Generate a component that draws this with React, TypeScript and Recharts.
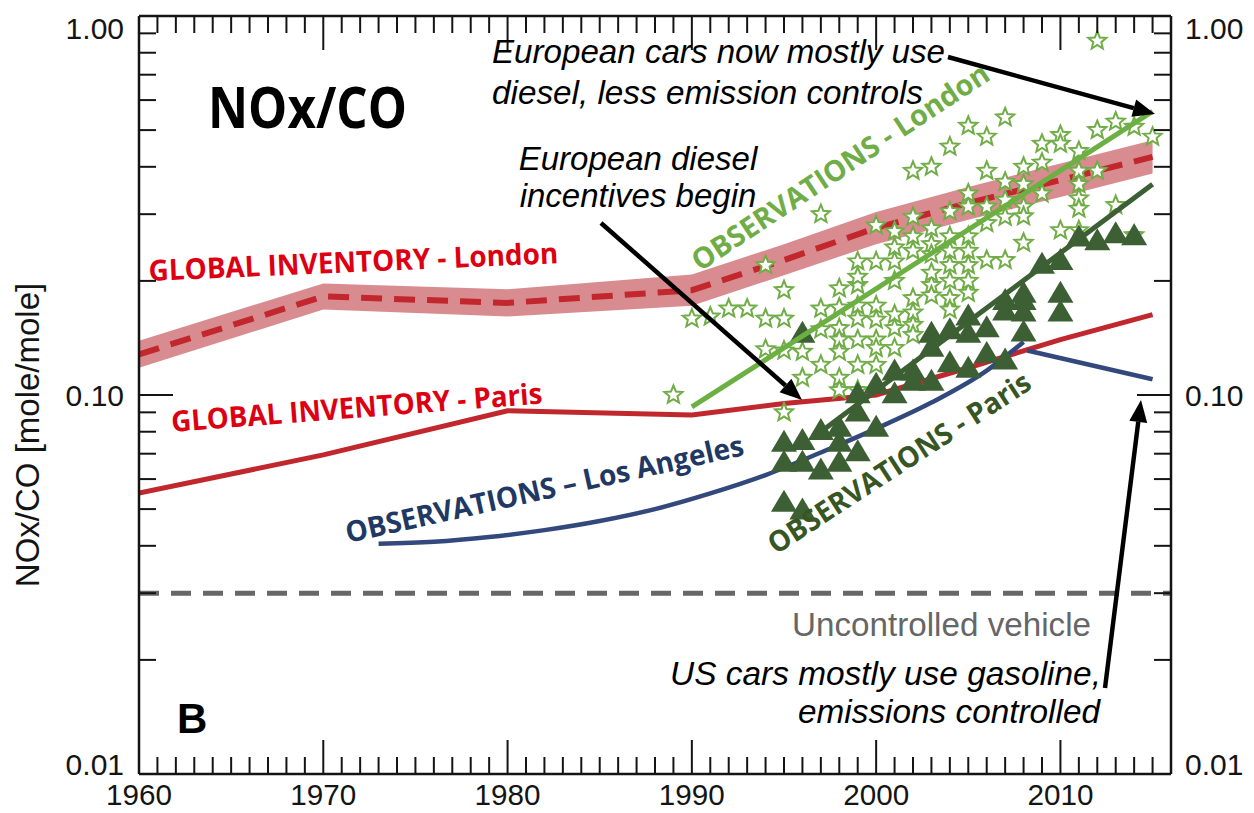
import React from "react";
import { Area, ComposedChart, Line, Scatter, XAxis, YAxis } from "recharts";

// Global inventory (model) values, read at the kinks of the curves
const inventoryYears = [1960, 1970, 1980, 1990, 1995, 2000, 2005, 2010, 2015];
const londonInventory = [0.128, 0.182, 0.175, 0.189, 0.227, 0.276, 0.321, 0.369, 0.425];
const londonInventoryLow = [0.118, 0.168, 0.161, 0.172, 0.207, 0.25, 0.29, 0.333, 0.384];
const londonInventoryHigh = [0.139, 0.197, 0.19, 0.208, 0.25, 0.304, 0.354, 0.408, 0.47];
const parisInventory = [0.0551, 0.0695, 0.0909, 0.0886, 0.095, 0.1, 0.118, 0.14, 0.163];

// Los Angeles observations (smooth fit + recent segment)
const laYears = [1973, 1976, 1979, 1982, 1985, 1988, 1991, 1994, 1997, 2000, 2003, 2006, 2008];
const laValues = [0.0405, 0.041, 0.0422, 0.044, 0.0465, 0.05, 0.055, 0.0615, 0.0705, 0.0815, 0.0955, 0.116, 0.138];
const laRecentYears = [2008.2, 2015];
const laRecentValues = [0.131, 0.11];

// Trend lines through the observations
const londonFitYears = [1990, 2015];
const londonFitValues = [0.093, 0.56];
const parisFitYears = [1997, 2015];
const parisFitValues = [0.08, 0.36];

const uncontrolledYears = [1960, 2016];
const uncontrolledValues = [0.03, 0.03];

// Observations - London (stars), [year, NOx/CO]
const londonObs = [
  [1989, 0.1], [1990, 0.159], [1991, 0.161], [1992, 0.169], [1993, 0.169],
  [1994, 0.159], [1994, 0.132], [1994, 0.22],
  [1995, 0.159], [1995, 0.189], [1995, 0.09], [1995, 0.131],
  [1996, 0.13], [1996, 0.111],
  [1997, 0.12], [1997, 0.169], [1997, 0.149], [1997, 0.3],
  [1998, 0.191], [1998, 0.15], [1998, 0.14], [1998, 0.13], [1998, 0.111], [1998, 0.103], [1998, 0.17],
  [1999, 0.195], [1999, 0.172], [1999, 0.159], [1999, 0.14], [1999, 0.12], [1999, 0.103], [1999, 0.225], [1999, 0.205],
  [2000, 0.172], [2000, 0.158], [2000, 0.14], [2000, 0.133], [2000, 0.12], [2000, 0.225], [2000, 0.28],
  [2001, 0.2], [2001, 0.163], [2001, 0.15], [2001, 0.133], [2001, 0.245], [2001, 0.225], [2001, 0.27],
  [2002, 0.18], [2002, 0.165], [2002, 0.153], [2002, 0.144], [2002, 0.262], [2002, 0.24], [2002, 0.295], [2002, 0.39],
  [2003, 0.195], [2003, 0.183], [2003, 0.275], [2003, 0.25], [2003, 0.235], [2003, 0.21], [2003, 0.4],
  [2004, 0.18], [2004, 0.168], [2004, 0.262], [2004, 0.24], [2004, 0.22], [2004, 0.305], [2004, 0.452], [2004, 0.2],
  [2005, 0.262], [2005, 0.24], [2005, 0.22], [2005, 0.186], [2005, 0.314], [2005, 0.34], [2005, 0.513], [2005, 0.2],
  [2006, 0.48], [2006, 0.39], [2006, 0.314], [2006, 0.284], [2006, 0.227],
  [2007, 0.54], [2007, 0.365], [2007, 0.327], [2007, 0.295], [2007, 0.227],
  [2008, 0.4], [2008, 0.36], [2008, 0.314], [2008, 0.296], [2008, 0.252],
  [2009, 0.46], [2009, 0.41], [2009, 0.34],
  [2010, 0.485], [2010, 0.46], [2010, 0.272],
  [2011, 0.44], [2011, 0.39], [2011, 0.36], [2011, 0.33], [2011, 0.31], [2011, 0.272],
  [2012, 0.5], [2012, 0.39], [2012, 0.86],
  [2013, 0.526], [2013, 0.317],
  [2014, 0.51], [2014, 0.264],
  [2015, 0.48],
];

// Observations - Paris (triangles), [year, NOx/CO]
const parisObs = [
  [1995, 0.0753], [1995, 0.0667], [1995, 0.0523],
  [1996, 0.0761], [1996, 0.0667], [1996, 0.0499], [1996, 0.146],
  [1997, 0.0808], [1997, 0.0636],
  [1998, 0.0824], [1998, 0.0753], [1998, 0.0667],
  [1999, 0.101], [1999, 0.0905], [1999, 0.071],
  [2000, 0.107], [2000, 0.0824],
  [2001, 0.116], [2001, 0.101],
  [2002, 0.116], [2002, 0.109],
  [2003, 0.109], [2003, 0.146], [2003, 0.134],
  [2004, 0.149], [2004, 0.122],
  [2005, 0.162], [2005, 0.146], [2005, 0.118],
  [2006, 0.151], [2006, 0.129],
  [2007, 0.178], [2007, 0.167], [2007, 0.124],
  [2008, 0.186], [2008, 0.166], [2008, 0.147], [2008, 0.178],
  [2009, 0.222],
  [2010, 0.227], [2010, 0.186], [2010, 0.166],
  [2011, 0.262], [2012, 0.256], [2013, 0.267], [2014, 0.264],
];

const xMajorTicks = [1960, 1970, 1980, 1990, 2000, 2010];
const xTicks = Array.from({ length: 57 }, (_, i) => 1960 + i);
const yTicks = [0.01, 0.02, 0.03, 0.04, 0.05, 0.06, 0.07, 0.08, 0.09, 0.1, 0.2, 0.3, 0.4, 0.5, 0.6, 0.7, 0.8, 0.9, 1];
const yTickLabels: Record<string, string> = { "0.01": "0.01", "0.1": "0.10", "1": "1.00" };

const zip = (xs: number[], ys: number[]) => xs.map((year, i) => ({ year, value: ys[i] }));

const bandData = inventoryYears.map((year, i) => ({
  year,
  value: londonInventory[i],
  band: [londonInventoryLow[i], londonInventoryHigh[i]],
}));
const parisInvData = zip(inventoryYears, parisInventory);
const laData = zip(laYears, laValues);
const laRecentData = zip(laRecentYears, laRecentValues);
const londonFitData = zip(londonFitYears, londonFitValues);
const parisFitData = zip(parisFitYears, parisFitValues);
const uncontrolledData = zip(uncontrolledYears, uncontrolledValues);
const londonObsData = londonObs.map(([year, value]) => ({ year, value }));
const parisObsData = parisObs.map(([year, value]) => ({ year, value }));

const AXIS_FONT = "'Liberation Sans', Arial, Helvetica, sans-serif";
const LABEL_FONT = "'Open Sans', Lato, sans-serif";
const INK = "#141414";

function BottomTick(props: any) {
  const { x, y, payload } = props;
  const v = payload.value as number;
  const major = xMajorTicks.includes(v);
  return (
    <g>
      <line x1={x} y1={y} x2={x} y2={y - (major ? 34 : 17)} stroke={INK} strokeWidth={2} />
      {major && (
        <text x={x} y={y + 31} textAnchor="middle" fontSize={30} fontFamily={AXIS_FONT} fill={INK} textLength={66} lengthAdjust="spacingAndGlyphs">
          {v}
        </text>
      )}
    </g>
  );
}

function TopTick(props: any) {
  const { x, y, payload } = props;
  const major = xMajorTicks.includes(payload.value);
  return <line x1={x} y1={y} x2={x} y2={y + (major ? 34 : 17)} stroke={INK} strokeWidth={2} />;
}

function labelShift(label: string) {
  if (label === "1.00") return 12;
  if (label === "0.01") return -10;
  return 0;
}

function LeftTick(props: any) {
  const { x, y, payload } = props;
  const label = yTickLabels[String(payload.value)];
  return (
    <g>
      <line x1={x} y1={y} x2={x + (label ? 34 : 17)} y2={y} stroke={INK} strokeWidth={2} />
      {label && (
        <text x={x - 15} y={y + 11 + labelShift(label)} textAnchor="end" fontSize={30} fontFamily={AXIS_FONT} fill={INK}>
          {label}
        </text>
      )}
    </g>
  );
}

function RightTick(props: any) {
  const { x, y, payload } = props;
  const label = yTickLabels[String(payload.value)];
  return (
    <g>
      <line x1={x} y1={y} x2={x - (label ? 34 : 17)} y2={y} stroke={INK} strokeWidth={2} />
      {label && (
        <text x={x + 14} y={y + 11 + labelShift(label)} textAnchor="start" fontSize={30} fontFamily={AXIS_FONT} fill={INK}>
          {label}
        </text>
      )}
    </g>
  );
}

function StarShape(props: any) {
  const { cx, cy } = props;
  const pts: string[] = [];
  for (let i = 0; i < 10; i++) {
    const r = i % 2 === 0 ? 9.5 : 4.2;
    const a = -Math.PI / 2 + (i * Math.PI) / 5;
    pts.push(`${cx + r * Math.cos(a)},${cy + r * Math.sin(a)}`);
  }
  return <polygon points={pts.join(" ")} fill="#ffffff" stroke="#70ad47" strokeWidth={2} />;
}

function TriangleShape(props: any) {
  const { cx, cy } = props;
  return <polygon points={`${cx},${cy - 12} ${cx - 13},${cy + 10} ${cx + 13},${cy + 10}`} fill="#3d5f34" />;
}

function Arrow({ x1, y1, x2, y2 }: { x1: number; y1: number; x2: number; y2: number }) {
  const a = Math.atan2(y2 - y1, x2 - x1);
  const len = 22;
  const hw = 9;
  const bx = x2 - len * Math.cos(a);
  const by = y2 - len * Math.sin(a);
  const p1 = `${bx + hw * Math.sin(a)},${by - hw * Math.cos(a)}`;
  const p2 = `${bx - hw * Math.sin(a)},${by + hw * Math.cos(a)}`;
  return (
    <g>
      <line x1={x1} y1={y1} x2={bx} y2={by} stroke="#000" strokeWidth={4.5} />
      <polygon points={`${x2},${y2} ${p1} ${p2}`} fill="#000" />
    </g>
  );
}

function Slanted(props: { x: number; y: number; angle: number; length: number; color: string; children: string }) {
  const { x, y, angle, length, color, children } = props;
  return (
    <text
      transform={`translate(${x},${y}) rotate(${angle})`}
      fontFamily={LABEL_FONT}
      fontWeight={700}
      fontSize={29}
      fill={color}
      textLength={length}
      lengthAdjust="spacingAndGlyphs"
    >
      {children}
    </text>
  );
}

function Note(props: { x: number; y: number; anchor?: "start" | "middle" | "end"; length?: number; color?: string; italic?: boolean; children: string }) {
  const { x, y, anchor = "start", length, color = "#000", italic = true, children } = props;
  return (
    <text
      x={x}
      y={y}
      textAnchor={anchor}
      fontFamily={AXIS_FONT}
      fontStyle={italic ? "italic" : "normal"}
      fontSize={33}
      fill={color}
      textLength={length}
      lengthAdjust="spacingAndGlyphs"
    >
      {children}
    </text>
  );
}

export default function App() {
  return (
    <div style={{ position: "absolute", left: 0, top: 0, width: 1254, height: 813, background: "#fff" }}>
      <ComposedChart width={1254} height={813} margin={{ top: 0, right: 0, bottom: 0, left: 0 }}>
        <XAxis
          xAxisId={0}
          dataKey="year"
          type="number"
          domain={[1960, 2016]}
          allowDataOverflow
          ticks={xTicks}
          interval={0}
          height={39}
          tickSize={0}
          tickMargin={0}
          tick={<BottomTick />}
          tickLine={false}
          axisLine={{ stroke: INK, strokeWidth: 2.5 }}
        />
        <XAxis
          xAxisId="top"
          orientation="top"
          dataKey="year"
          type="number"
          domain={[1960, 2016]}
          allowDataOverflow
          ticks={xTicks}
          interval={0}
          height={16}
          tickSize={0}
          tickMargin={0}
          tick={<TopTick />}
          tickLine={false}
          axisLine={{ stroke: INK, strokeWidth: 2.5 }}
        />
        <YAxis
          yAxisId={0}
          type="number"
          scale="log"
          domain={[0.01, 1]}
          allowDataOverflow
          ticks={yTicks}
          interval={0}
          width={139}
          tickSize={0}
          tickMargin={0}
          tick={<LeftTick />}
          tickLine={false}
          axisLine={{ stroke: INK, strokeWidth: 2.5 }}
        />
        <YAxis
          yAxisId="right"
          orientation="right"
          type="number"
          scale="log"
          domain={[0.01, 1]}
          allowDataOverflow
          ticks={yTicks}
          interval={0}
          width={83}
          tickSize={0}
          tickMargin={0}
          tick={<RightTick />}
          tickLine={false}
          axisLine={{ stroke: INK, strokeWidth: 2.5 }}
        />

        <Area
          data={bandData}
          dataKey="band"
          type="linear"
          stroke="none"
          fill="#d6868a"
          fillOpacity={0.95}
          isAnimationActive={false}
        />
        <Line data={bandData} dataKey="value" type="linear" stroke="#c1272d" strokeWidth={6} strokeDasharray="21 12" dot={false} activeDot={false} isAnimationActive={false} />
        <Line data={parisInvData} dataKey="value" type="linear" stroke="#c0282e" strokeWidth={5} dot={false} activeDot={false} isAnimationActive={false} />
        <Line data={uncontrolledData} dataKey="value" type="linear" stroke="#676767" strokeWidth={5} strokeDasharray="20 12" dot={false} activeDot={false} isAnimationActive={false} />
        <Line data={laData} dataKey="value" type="monotone" stroke="#33487d" strokeWidth={4.5} dot={false} activeDot={false} isAnimationActive={false} />
        <Line data={laRecentData} dataKey="value" type="linear" stroke="#33487d" strokeWidth={4.5} dot={false} activeDot={false} isAnimationActive={false} />
        <Scatter data={londonObsData} dataKey="value" shape={<StarShape />} isAnimationActive={false} />
        <Scatter data={parisObsData} dataKey="value" shape={<TriangleShape />} isAnimationActive={false} />
        <Line data={londonFitData} dataKey="value" type="linear" stroke="#6cb043" strokeWidth={5} dot={false} activeDot={false} isAnimationActive={false} zIndex={700} />
        <Line data={parisFitData} dataKey="value" type="linear" stroke="#3d5f34" strokeWidth={5} dot={false} activeDot={false} isAnimationActive={false} zIndex={700} />
      </ComposedChart>

      <svg width={1254} height={813} style={{ position: "absolute", left: 0, top: 0, pointerEvents: "none" }}>
        <text transform="translate(39,435) rotate(-90)" textAnchor="middle" fontFamily={AXIS_FONT} fontSize={33} fill={INK}>
          NOx/CO [mole/mole]
        </text>
        <text x={208} y={128} fontFamily={LABEL_FONT} fontWeight={700} fontSize={58} fill="#000" textLength={199} lengthAdjust="spacingAndGlyphs">
          NOx/CO
        </text>
        <text x={177} y={733} fontFamily={AXIS_FONT} fontWeight={700} fontSize={42} fill="#000">
          B
        </text>

        <Slanted x={149} y={281} angle={-2.5} length={410} color="#dc0012">GLOBAL INVENTORY - London</Slanted>
        <Slanted x={172} y={432} angle={-4.4} length={372} color="#dc0012">GLOBAL INVENTORY - Paris</Slanted>
        <Slanted x={348} y={543} angle={-12.5} length={407} color="#1f3864">OBSERVATIONS – Los Angeles</Slanted>
        <Slanted x={700} y={272} angle={-33.5} length={350} color="#70ad47">OBSERVATIONS - London</Slanted>
        <Slanted x={776} y={555} angle={-33} length={307} color="#375623">OBSERVATIONS - Paris</Slanted>

        <Note x={492} y={63} length={453}>European cars now mostly use</Note>
        <Note x={492} y={104} length={431}>diesel, less emission controls</Note>
        <Note x={638} y={170} anchor="middle">European diesel</Note>
        <Note x={638} y={207} anchor="middle">incentives begin</Note>
        <Note x={1091} y={636} anchor="end" length={299} color="#666666" italic={false}>Uncontrolled vehicle</Note>
        <Note x={1101} y={685} anchor="end" length={431}>US cars mostly use gasoline,</Note>
        <Note x={1100} y={723} anchor="end" length={302}>emissions controlled</Note>

        <Arrow x1={948} y1={57} x2={1155} y2={114} />
        <Arrow x1={601} y1={223} x2={802} y2={400} />
        <Arrow x1={1105} y1={688} x2={1141} y2={400} />
      </svg>
    </div>
  );
}
